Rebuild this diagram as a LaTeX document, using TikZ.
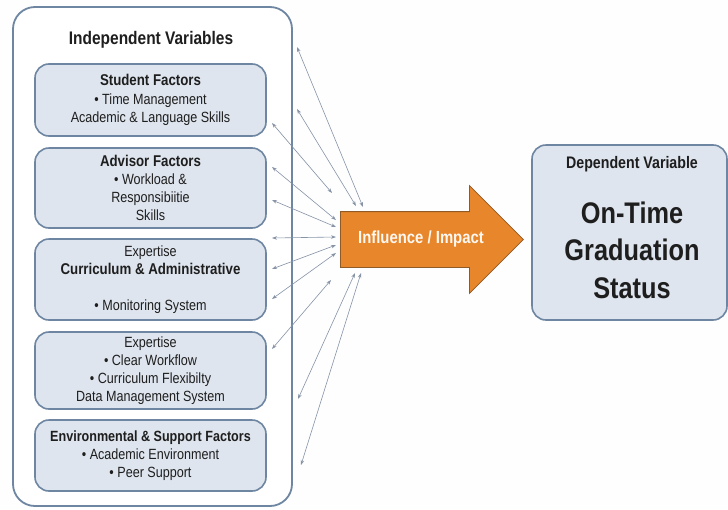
\documentclass[tikz,border=0pt]{standalone}
\usepackage{xcolor}
\usepackage{fontspec}
\setmainfont{Liberation Sans}[FakeStretch=0.85]
\usepackage{tikz}
\usetikzlibrary{positioning,shapes.arrows,arrows.meta}

\definecolor{boxline}{HTML}{6E86A2}
\definecolor{boxfill}{HTML}{DEE5EE}
\definecolor{linkcol}{HTML}{8693A6}
\definecolor{impactfill}{HTML}{E8862B}
\definecolor{impactline}{HTML}{8F5A26}
\definecolor{txt}{HTML}{1E1E1E}

\newcommand{\ttl}[1]{{\fontsize{15.6}{18.2}\selectfont\bfseries #1}}

\tikzset{
  outerbox/.style={draw=boxline, line width=1.8pt, rounded corners=22pt, fill=white},
  factorbox/.style={draw=boxline, line width=1.6pt, rounded corners=14pt, fill=boxfill,
    minimum width=231pt, align=center, inner sep=0pt, text=txt,
    font=\fontsize{14.8}{18.2}\selectfont},
  link/.style={{Stealth[length=5pt,width=3.5pt]}-{Stealth[length=5pt,width=3.5pt]}, draw=linkcol, line width=0.6pt}
}

\begin{document}
\begin{tikzpicture}[x=1pt, y=-1pt]
  \useasboundingbox (0,0) rectangle (728,509);
  \fill[white!98!boxfill] (0,0) rectangle (728,509);

  % independent variables panel
  \draw[outerbox] (13,7) rectangle (292,506);
  \node[font=\fontsize{18.2}{20}\selectfont\bfseries, text=txt] (indep) at (151,40) {Independent Variables};

  \node[factorbox, minimum height=72pt] at (150.5,100) (stud)
    {\ttl{Student Factors}\\ • Time Management\\ Academic \& Language Skills};
  \node[factorbox, minimum height=80pt] at (150.5,188) (adv)
    {\ttl{Advisor Factors}\\ • Workload \&\\ Responsibiitie\\ Skills};
  \node[factorbox, minimum height=81pt] at (150.5,279.5) (curr)
    {Expertise\\ \ttl{Curriculum \& Administrative}\\[18.2pt] • Monitoring System};
  \node[factorbox, minimum height=77pt] at (150.5,370.5) (expt)
    {Expertise\\ • Clear Workflow\\ • Curriculum Flexibilty\\ Data Management System};
  \node[factorbox, minimum height=71pt] at (150.5,455.5) (env)
    {{\fontsize{14.8}{18.2}\selectfont\bfseries Environmental \& Support Factors}\\ • Academic Environment\\ • Peer Support};

  % central arrow
  \node[single arrow, draw=impactline, fill=impactfill, line width=0.8pt,
        inner xsep=0pt, inner ysep=27.5pt, minimum height=183pt,
        single arrow head extend=26pt, single arrow tip angle=90,
        anchor=tail] at (340,239.5) (impact) {};
  \node[text=white!94!impactfill, font=\fontsize{17.5}{20}\selectfont\bfseries] at (421,239) (impacttext) {Influence / Impact};

  % dependent variable
  \node[draw=boxline, line width=1.6pt, rounded corners=14pt, fill=boxfill,
        minimum width=195pt, minimum height=175pt] at (629.5,232.5) (dep) {};
  \node[text=txt, font=\fontsize{16.7}{20}\selectfont\bfseries] at (632,164) (deptitle) {Dependent Variable};
  \node[text=txt, align=center, font=\fontsize{29.8}{37.5}\selectfont\bfseries] at (632,250) (outcome)
    {On-Time\\ Graduation\\ Status};

  % two-way links between the factors and the arrow
  \foreach \ax/\ay/\bx/\by [count=\i] in {
      297/47/363/207, 297/109/356/206, 272/123/332/193,
      272/167/336/220, 272/200/336/227, 272/238/336/237,
      272/269/336/245, 272/299/336/253, 272/349/331/280,
      298/399/355/273, 301/465/361/273} {
    \coordinate (f\i) at (\ax,\ay);
    \coordinate (m\i) at (\bx,\by);
    \draw[link] (f\i) -- (m\i);
  }
\end{tikzpicture}
\end{document}
